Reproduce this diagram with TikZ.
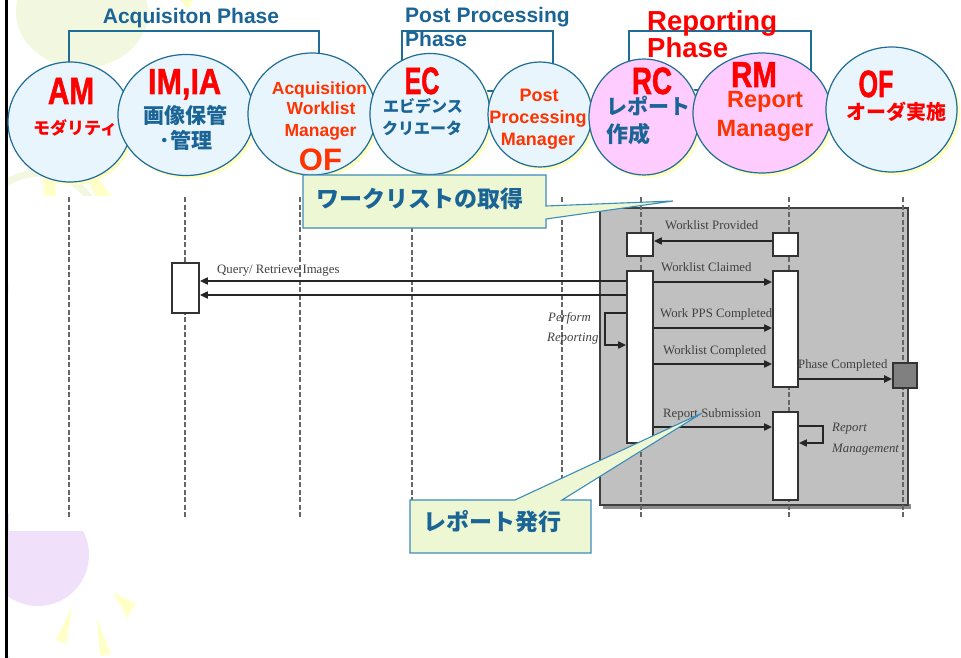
\documentclass[tikz,border=0pt]{standalone}
\usepackage{graphicx}
\usepackage{fontspec}
\setmainfont{Liberation Sans}
\newfontfamily\heavyf{Liberation Sans}[FakeBold=1.5]
\newfontfamily\jpf{Noto Sans CJK JP}
\newfontfamily\seqf{Liberation Serif}
\usetikzlibrary{shapes.geometric,shadows,arrows.meta}

\newcommand\txsz[1]{\fontsize{#1}{#1}\selectfont}
\newcommand\cnd[2]{\scalebox{#1}[1]{#2}}

\definecolor{cblue}{RGB}{26,100,150}
\definecolor{edge}{RGB}{31,108,150}
\definecolor{cfill}{RGB}{232,245,252}
\definecolor{pfill}{RGB}{255,204,255}
\definecolor{shad}{RGB}{255,255,196}
\definecolor{ored}{RGB}{255,51,0}
\definecolor{cred}{RGB}{255,0,0}
\definecolor{callfill}{RGB}{238,247,212}
\definecolor{calledge}{RGB}{60,140,185}
\definecolor{frameg}{RGB}{192,192,192}
\definecolor{bggreen}{RGB}{242,248,224}
\definecolor{bgyellow}{RGB}{255,255,200}
\definecolor{bgpurple}{RGB}{240,224,250}

\begin{document}
\begin{tikzpicture}[x=1pt,y=-1pt,
  circ/.style={ellipse, draw=edge, line width=1.2pt, fill=cfill, inner sep=0pt,
    general shadow={fill=shad, shadow xshift=3pt, shadow yshift=-3pt}},
  pinkc/.style={fill=pfill},
  bracket/.style={draw=edge, line width=1.3pt},
  headtxt/.style={font=\bfseries\txsz{21}, text=cblue, inner sep=0pt, anchor=base west},
  abbr/.style={font=\heavyf\bfseries\txsz{38}, text=cred, inner sep=0pt, anchor=base},
  roletxt/.style={font=\bfseries\txsz{17.5}, text=ored, inner sep=0pt, anchor=base},
  jptxt/.style={font=\jpf\bfseries, inner sep=0pt},
  lifeline/.style={draw=black!60, line width=1.1pt, dash pattern=on 5pt off 2.5pt},
  actbox/.style={draw=black!80, line width=1.8pt, fill=white, inner sep=0pt},
  msg/.style={draw=black!85, line width=1.9pt, -{Triangle[length=8pt,width=7pt]}},
  seqlbl/.style={font=\seqf\txsz{12.8}, text=black!75, inner sep=0pt, anchor=base west},
  seqit/.style={seqlbl, font=\seqf\itshape\txsz{12.8}},
  callout/.style={draw=calledge, line width=1.1pt, fill=callfill},
  calltxt/.style={font=\jpf\bfseries\txsz{23}, text=cblue, inner sep=0pt, anchor=west}
]
\useasboundingbox (0,0) rectangle (961,658);
\fill[white] (0,0) rectangle (961,658);

% ---- soft background ornaments ----
\fill[bggreen] (82,12) ellipse [x radius=66, y radius=56];
\draw[bggreen, line width=7pt] (40,235) circle [radius=62];
\fill[bgyellow] (181,0) -- (193,0) -- (188,10) -- cycle;
\fill[bgyellow] (43,178) -- (55,178) -- (56,197) -- (44,197) -- cycle;
\fill[bgyellow] (88,181) -- (98,178) -- (112,197) -- (96,197) -- cycle;
\fill[bgpurple] (38,555) circle [radius=51];
\fill[white] (11,606) rectangle (20,616);
\draw[bgpurple, line width=3pt] (-22,690) circle [radius=44];
\fill[bgyellow] (113,592) -- (136,604) -- (127,618) -- cycle;
\fill[bgyellow] (72,607) -- (66,644) -- (56,640) -- cycle;
\fill[bgyellow] (97,619) -- (111,654) -- (100,656) -- cycle;
\fill[white] (0,0) rectangle (5,658);

% left rule
\draw[black, line width=2.6pt] (6.5,0) -- (6.5,658);

% ---- sequence diagram canvas ----
\fill[white] (9,196) rectangle (961,531);
\fill[black!45] (603,504) rectangle (911,509);
\path[draw=black!75, line width=1.8pt, fill=frameg] (600,208) rectangle (908,505);
\foreach \lx in {69,185,300,412,562,641,789,903}
  \draw[lifeline] (\lx,197) -- (\lx,517);

% activation boxes
\node[actbox, minimum width=27pt, minimum height=50pt] (imAct) at (185.5,288) {};
\node[actbox, minimum width=26pt, minimum height=23pt] (rcS) at (640,244.5) {};
\node[actbox, minimum width=25pt, minimum height=23pt] (rmS) at (785.5,244.5) {};
\node[actbox, minimum width=26pt, minimum height=172pt] (rcAct) at (640,357) {};
\node[actbox, minimum width=25pt, minimum height=116pt] (rmA1) at (785.5,329) {};
\node[actbox, minimum width=25pt, minimum height=88pt] (rmA2) at (785.5,456) {};
\node[draw=black!80, line width=1.6pt, fill=black!50, inner sep=0pt,
      minimum width=24pt, minimum height=25pt] (endSq) at (905,375.5) {};

% message levels
\coordinate (yWP) at (0,241);
\coordinate (yQ1) at (0,281);
\coordinate (yQ2) at (0,295);
\coordinate (yWC) at (0,282);
\coordinate (yPP) at (0,328);
\coordinate (yPR1) at (0,313);
\coordinate (yPR2) at (0,345);
\coordinate (yWD) at (0,364);
\coordinate (yPC) at (0,379);
\coordinate (yRS) at (0,427);
\coordinate (yRM1) at (0,426);
\coordinate (yRM2) at (0,443);

% messages
\draw[msg] (rmS.west |- yWP) -- (rcS.east |- yWP);
\draw[msg] (rcAct.west |- yQ1) -- (imAct.east |- yQ1);
\draw[msg] (rcAct.west |- yQ2) -- (imAct.east |- yQ2);
\draw[msg] (rcAct.east |- yWC) -- (rmA1.west |- yWC);
\draw[msg] (rcAct.east |- yPP) -- (rmA1.west |- yPP);
\draw[msg] (rcAct.east |- yWD) -- (rmA1.west |- yWD);
\draw[msg] (rcAct.west |- yPR1) -- ++(-21,0) |- (rcAct.west |- yPR2);
\draw[msg] (rmA1.east |- yPC) -- (endSq.west |- yPC);
\draw[msg] (rcAct.east |- yRS) -- (rmA2.west |- yRS);
\draw[msg] (rmA2.east |- yRM1) -- ++(24,0) |- (rmA2.east |- yRM2);

% message labels
\node[seqlbl] (lWP) at (665,229) {Worklist Provided};
\node[seqlbl] (lQR) at (217,273) {Query/ Retrieve Images};
\node[seqlbl] (lWC) at (661,271) {Worklist Claimed};
\node[seqlbl] (lPP) at (660,317) {Work PPS Completed};
\node[seqlbl] (lWD) at (663,354) {Worklist Completed};
\node[seqlbl] (lPC) at (798,368) {Phase Completed};
\node[seqlbl] (lRS) at (663,417) {Report Submission};
\node[seqit] (lPR1) at (548,321) {Perform};
\node[seqit] (lPR2) at (547,341) {Reporting};
\node[seqit] (lRM1) at (832,431) {Report};
\node[seqit] (lRM2) at (832,452) {Management};

% ---- phase brackets ----
\draw[bracket] (69,31) rectangle (319,95);
\draw[bracket] (402,31) rectangle (553,91);
\draw[bracket] (629,31) rectangle (811,90);

\node[headtxt, anchor=base] (hAcq) at (191,24) {Acquisiton Phase};
\node[headtxt] (hPost1) at (405,23) {Post Processing};
\node[headtxt] (hPost2) at (405,47) {Phase};
\node[headtxt, text=cred, font=\bfseries\txsz{27.5}] (hRep1) at (647,31) {Reporting};
\node[headtxt, text=cred, font=\bfseries\txsz{27.5}] (hRep2) at (647,58) {Phase};

% ---- actor circles ----
\node[circ, minimum width=124pt, minimum height=120pt] (am) at (70,122) {};
\node[circ, minimum width=136pt, minimum height=121pt] (imia) at (186,115) {};
\node[circ, minimum width=128pt, minimum height=122pt] (awm) at (312,114) {};
\node[circ, minimum width=120pt, minimum height=121pt] (ec) at (430,114) {};
\node[circ, minimum width=104pt, minimum height=105pt] (ppm) at (540,114.5) {};
\node[circ, pinkc, minimum width=110pt, minimum height=116pt] (rc) at (644,117) {};
\node[circ, pinkc, minimum width=138pt, minimum height=120pt] (rm) at (762,113) {};
\node[circ, minimum width=131pt, minimum height=125pt] (of) at (891.5,109.5) {};

% circle labels
\node[abbr] (amA) at (71,104) {\cnd{0.78}{AM}};
\node[jptxt, text=cred, font=\jpf\bfseries\txsz{17}] (amJ) at (75,128) {モダリティ};

\node[abbr, font=\heavyf\bfseries\txsz{36}] (imA) at (184.5,94) {\cnd{0.85}{IM,IA}};
\node[jptxt, text=cblue, font=\jpf\bfseries\txsz{21}] (imJ1) at (185.5,115) {画像保管};
\node[jptxt, text=cblue, font=\jpf\bfseries\txsz{21}] (imJ2) at (186,140) {･管理};

\node[roletxt] (awm1) at (319.5,95) {Acquisition};
\node[roletxt] (awm2) at (321,115) {Worklist};
\node[roletxt] (awm3) at (320.5,137) {Manager};
\node[roletxt, font=\bfseries\txsz{31}] (awmOF) at (320.5,170) {OF};

\node[abbr] (ecA) at (422,94) {\cnd{0.66}{EC}};
\node[jptxt, text=cblue, font=\jpf\bfseries\txsz{16}] (ecJ1) at (423,106) {エビデンス};
\node[jptxt, text=cblue, font=\jpf\bfseries\txsz{16}] (ecJ2) at (422,128) {クリエータ};

\node[roletxt, font=\bfseries\txsz{18}] (ppm1) at (539,102) {Post};
\node[roletxt, font=\bfseries\txsz{18}] (ppm2) at (538,124) {Processing};
\node[roletxt, font=\bfseries\txsz{18}] (ppm3) at (538,146) {Manager};

\node[abbr] (rcA) at (652,94) {\cnd{0.73}{RC}};
\node[jptxt, text=cblue, font=\jpf\bfseries\txsz{21}, anchor=west] (rcJ1) at (606,106) {レポート};
\node[jptxt, text=cblue, font=\jpf\bfseries\txsz{22}, anchor=west] (rcJ2) at (606,134) {作成};

\node[abbr, font=\heavyf\bfseries\txsz{36}] (rmA) at (754,87) {\cnd{0.82}{RM}};
\node[roletxt, font=\bfseries\txsz{23.5}] (rm1) at (765,108) {Report};
\node[roletxt, font=\bfseries\txsz{23.5}] (rm2) at (765,137) {Manager};

\node[abbr] (ofA) at (876,97) {\cnd{0.66}{OF}};
\node[jptxt, text=cred, font=\jpf\bfseries\txsz{20}] (ofJ) at (896,112) {オーダ実施};

% ---- callouts ----
\path[callout] (303,175) -- (546,175) -- (546,206) -- (673,201) -- (546,219)
  -- (546,228) -- (303,228) -- cycle;
\node[calltxt] (c1) at (316,199) {ワークリストの取得};
\path[callout] (410,500) -- (515,500) -- (702,413) -- (562,500) -- (591,500)
  -- (591,553) -- (410,553) -- cycle;
\node[calltxt] (c2) at (423,522) {レポート発行};
\end{tikzpicture}
\end{document}
